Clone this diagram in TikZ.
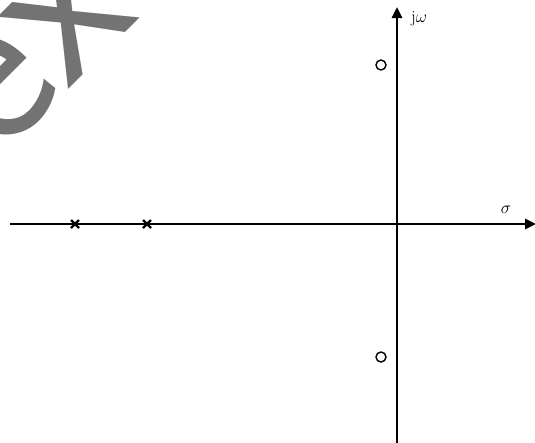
\documentclass[tikz,border=0pt]{standalone}
\usepackage{fontspec}
\usetikzlibrary{arrows.meta}
\begin{document}
\begin{tikzpicture}[x=1pt,y=-1pt,
  axis/.style={line width=2.6pt,-{Triangle[length=11pt,width=10pt]}},
  polemark/.style={line width=2.2pt},
  zeromark/.style={draw,circle,line width=1.4pt,minimum size=10pt,inner sep=0pt},
  lbl/.style={inner sep=0pt,font=\fontsize{17}{17}\selectfont},
  wm/.style={text=black!55,inner sep=0pt,font=\sffamily\fontsize{235}{235}\selectfont}]
\useasboundingbox (0,0) rectangle (535,442);
\clip (0,0) rectangle (535,442);
% watermark
\node[wm,rotate=45,anchor=base west] (wmk) at (-58,216) {text};
% axes
\coordinate (hl) at (10,224);
\coordinate (hr) at (536,224);
\coordinate (vb) at (397,443);
\coordinate (vt) at (397,7);
\draw[axis] (hl) -- (hr);
\draw[axis] (vb) -- (vt);
% poles
\foreach \px/\nm in {75/p1,147/p2}{
  \coordinate (\nm) at (\px,224);
  \draw[polemark] ([shift={(-4,-4)}]\nm) -- ([shift={(4,4)}]\nm)
                  ([shift={(-4,4)}]\nm) -- ([shift={(4,-4)}]\nm);
}
% zeros
\node[zeromark] (z1) at (381,65) {};
\node[zeromark] (z2) at (381,357) {};
% labels
\node[lbl,anchor=west] (jw) at (411,19) {$\mathrm{j}\omega$};
\node[lbl] (sg) at (506,210) {$\sigma$};
\end{tikzpicture}
\end{document}
